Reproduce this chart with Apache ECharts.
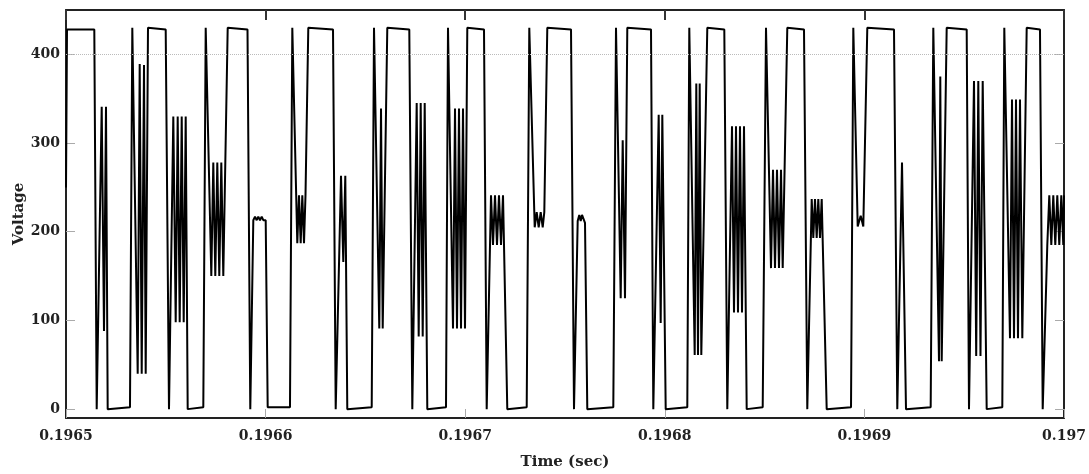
<!DOCTYPE html>
<html>
<head>
<meta charset="utf-8">
<script src="https://cdn.jsdelivr.net/npm/echarts@6/dist/echarts.min.js"></script>
<style>
  html, body { margin: 0; padding: 0; background: #fff; }
  #main { width: 1089px; height: 474px; }
</style>
</head>
<body>
<div id="main"></div>
<script>
// time samples (sec)
var times = [
  0.19650000, 0.19650050, 0.19651418, 0.19651538, 0.19651789, 0.19651904, 0.19652004, 0.19652089,
  0.19653206, 0.19653322, 0.19653592, 0.19653692, 0.19653793, 0.19653908, 0.19653993, 0.19654108,
  0.19654995, 0.19655160, 0.19655376, 0.19655496, 0.19655596, 0.19655696, 0.19655797, 0.19655897,
  0.19655997, 0.19656097, 0.19656879, 0.19656999, 0.19657280, 0.19657380, 0.19657480, 0.19657580,
  0.19657680, 0.19657781, 0.19657881, 0.19658101,
  0.19659093, 0.19659233, 0.19659384, 0.19659469, 0.19659554, 0.19659634, 0.19659719, 0.19659805,
  0.19659885, 0.19660005, 0.19660105, 0.19661222, 0.19661338, 0.19661588, 0.19661673, 0.19661758,
  0.19661839, 0.19661924, 0.19661999, 0.19662139,
  0.19663377, 0.19663512, 0.19663778, 0.19663893, 0.19663993, 0.19664093, 0.19665316, 0.19665431,
  0.19665696, 0.19665782, 0.19665867, 0.19666097,
  0.19667199, 0.19667350, 0.19667570, 0.19667670, 0.19667770, 0.19667871, 0.19667971, 0.19668101,
  0.19669038, 0.19669138, 0.19669389, 0.19669489, 0.19669589, 0.19669689, 0.19669790, 0.19669890,
  0.19669990, 0.19670105,
  0.19670942, 0.19671077, 0.19671293, 0.19671393, 0.19671493, 0.19671593, 0.19671693, 0.19671794,
  0.19671894, 0.19672109, 0.19673081, 0.19673211, 0.19673482, 0.19673582, 0.19673682, 0.19673782,
  0.19673883, 0.19673963, 0.19674113,
  0.19675301, 0.19675451, 0.19675636, 0.19675716, 0.19675786, 0.19675852, 0.19676002, 0.19676117,
  0.19677420, 0.19677555, 0.19677790, 0.19677891, 0.19678006, 0.19678121,
  0.19679309, 0.19679424, 0.19679694, 0.19679794, 0.19679875, 0.19680045, 0.19681127, 0.19681227,
  0.19681498, 0.19681578, 0.19681663, 0.19681748, 0.19681829, 0.19682129,
  0.19682981, 0.19683131, 0.19683367, 0.19683467, 0.19683567, 0.19683667, 0.19683767, 0.19683868,
  0.19683968, 0.19684103, 0.19684905, 0.19685070, 0.19685321, 0.19685421, 0.19685521, 0.19685621,
  0.19685721, 0.19685822, 0.19685907, 0.19686137,
  0.19686974, 0.19687139, 0.19687360, 0.19687440, 0.19687525, 0.19687610, 0.19687690, 0.19687775,
  0.19687861, 0.19688111, 0.19689329, 0.19689444, 0.19689664, 0.19689814, 0.19689945, 0.19690145,
  0.19691483, 0.19691648, 0.19691884, 0.19692084, 0.19693321, 0.19693452, 0.19693737, 0.19693802,
  0.19693873, 0.19694123,
  0.19695125, 0.19695240, 0.19695491, 0.19695601, 0.19695706, 0.19695816, 0.19695927, 0.19696127,
  0.19696909, 0.19697009, 0.19697294, 0.19697395, 0.19697495, 0.19697595, 0.19697695, 0.19697795,
  0.19697911, 0.19698131,
  0.19698797, 0.19698933, 0.19699163, 0.19699263, 0.19699364, 0.19699464, 0.19699564, 0.19699664,
  0.19699764, 0.19699865, 0.19699965, 0.19700000
];
// voltage at each sample
var volts = [
  250, 428, 428, 0, 341, 88, 341, 0, 2, 430, 40, 389, 40, 388, 40, 430,
  428, 0, 330, 98, 330, 98, 330, 98, 330, 0, 2, 430, 150, 278, 150, 278, 150, 278, 150, 430,
  428, 0, 213, 217, 213, 217, 213, 217, 213, 213, 2, 2, 430, 187, 241, 187, 241, 187, 241, 430,
  428, 0, 263, 166, 263, 0, 2, 430, 91, 339, 91, 430,
  428, 0, 345, 82, 345, 82, 345, 0, 2, 430, 91, 339, 91, 339, 91, 339, 91, 430,
  428, 0, 241, 185, 241, 185, 241, 185, 241, 0, 2, 430, 205, 222, 205, 222, 205, 222, 430,
  428, 0, 212, 219, 212, 219, 210, 0, 2, 430, 125, 303, 125, 430,
  428, 0, 332, 97, 332, 0, 2, 430, 61, 367, 61, 367, 61, 430,
  428, 0, 319, 109, 319, 109, 319, 109, 319, 0, 2, 430, 159, 270, 159, 270, 159, 270, 159, 430,
  428, 0, 237, 193, 237, 193, 237, 193, 237, 0, 2, 430, 206, 218, 206, 430,
  428, 0, 278, 0, 2, 430, 54, 375, 54, 430,
  428, 0, 370, 60, 370, 60, 370, 0, 2, 430, 80, 349, 80, 349, 80, 349, 80, 430,
  428, 0, 185, 241, 185, 241, 185, 241, 185, 241, 185, 241
];
var xTicks = [0.1965, 0.1966, 0.1967, 0.1968, 0.1969, 0.197];
var yTicks = [0, 100, 200, 300, 400];
var refLine = 400;

var fontFam = 'DejaVu Serif';
var lineData = times.map(function (t, i) { return [t, volts[i]]; });

var chart = echarts.init(document.getElementById('main'));
chart.setOption({
  backgroundColor: '#fff',
  animation: false,
  grid: { left: 66, right: 25, top: 10, bottom: 56, outerBoundsMode: 'none' },
  xAxis: [{
    type: 'value',
    min: 0.1965,
    max: 0.197,
    position: 'bottom',
    name: 'Time (sec)',
    nameLocation: 'middle',
    nameGap: 37,
    nameMoveOverlap: false,
    nameTextStyle: { fontFamily: fontFam, fontWeight: 'bold', fontSize: 15, color: '#222' },
    axisLine: { onZero: false, lineStyle: { color: '#222', width: 2 } },
    axisTick: { inside: true, length: 9, customValues: xTicks, lineStyle: { color: '#aaa', width: 1 } },
    axisLabel: {
      customValues: xTicks,
      margin: 11,
      fontFamily: fontFam, fontWeight: 'bold', fontSize: 14, color: '#222',
      formatter: function (v) { return String(+v.toFixed(4)); }
    },
    splitLine: { show: false }
  }, {
    type: 'value',
    min: 0.1965,
    max: 0.197,
    position: 'top',
    axisLine: { onZero: false, lineStyle: { color: '#222', width: 2 } },
    axisTick: { inside: true, length: 10, customValues: xTicks, lineStyle: { color: '#333', width: 2 } },
    axisLabel: { show: false },
    splitLine: { show: false }
  }],
  yAxis: [{
    type: 'value',
    min: -10,
    max: 450,
    position: 'left',
    name: 'Voltage',
    nameLocation: 'middle',
    nameGap: 39,
    nameMoveOverlap: false,
    nameTextStyle: { fontFamily: fontFam, fontWeight: 'bold', fontSize: 15, color: '#222' },
    axisLine: { show: true, onZero: false, lineStyle: { color: '#222', width: 2 } },
    axisTick: { show: true, inside: true, length: 9, customValues: yTicks, lineStyle: { color: '#aaa', width: 1 } },
    axisLabel: {
      customValues: yTicks,
      margin: 6,
      fontFamily: fontFam, fontWeight: 'bold', fontSize: 14, color: '#222'
    },
    splitLine: { show: false }
  }, {
    type: 'value',
    min: -10,
    max: 450,
    position: 'right',
    axisLine: { show: true, onZero: false, lineStyle: { color: '#222', width: 2 } },
    axisTick: { show: true, inside: true, length: 9, customValues: yTicks, lineStyle: { color: '#aaa', width: 1 } },
    axisLabel: { show: false },
    splitLine: { show: false }
  }],
  series: [{
    type: 'line',
    data: lineData,
    showSymbol: false,
    symbol: 'none',
    lineStyle: { color: '#000', width: 2 },
    markLine: {
      silent: true,
      symbol: 'none',
      label: { show: false },
      lineStyle: { color: '#bbb', type: 'dotted', width: 1 },
      data: [{ yAxis: refLine }]
    }
  }]
});
</script>
</body>
</html>
